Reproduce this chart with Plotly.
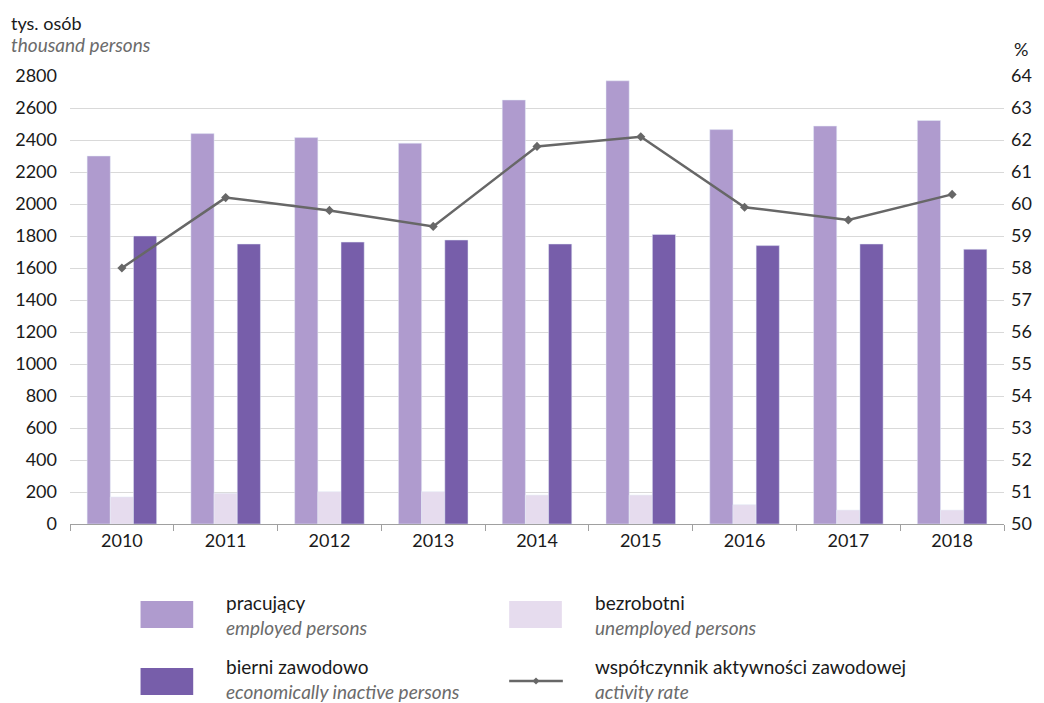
import plotly.graph_objects as go

LIGHT = "#AF9BCE"
PALE = "#E6DCEE"
DARK = "#775EAA"
LINE = "#676767"
GRID = "#D9D9D9"
TXT = "#1A1A1A"
GREY = "#6B6B6B"
FONT = "Lato, sans-serif"

years = ["2010", "2011", "2012", "2013", "2014", "2015", "2016", "2017", "2018"]
employed = [2300, 2440, 2415, 2380, 2650, 2770, 2465, 2487, 2522]
unemployed = [169, 192, 202, 202, 181, 181, 121, 87, 87]
inactive = [1800, 1750, 1762, 1775, 1750, 1810, 1740, 1750, 1717]
activity_rate = [58.0, 60.2, 59.8, 59.3, 61.8, 62.1, 59.9, 59.5, 60.3]

W, H = 1044, 703
L, R, T, B = 70, 1010, 76, 524


def px(x):
    return (x - L) / (R - L)


def py(y):
    return (B - y) / (B - T)


fig = go.Figure()
fig.add_trace(go.Bar(x=years, y=employed, name="pracujący", marker_color=LIGHT))
fig.add_trace(go.Bar(x=years, y=unemployed, name="bezrobotni", marker_color=PALE))
fig.add_trace(go.Bar(x=years, y=inactive, name="bierni zawodowo", marker_color=DARK))
fig.add_trace(go.Scatter(
    x=years, y=activity_rate, name="współczynnik aktywności zawodowej", yaxis="y2",
    mode="lines+markers", line=dict(color=LINE, width=2.5),
    marker=dict(symbol="diamond", size=7, color=LINE),
))

fig.update_layout(
    width=W, height=H,
    margin=dict(l=L, r=W - R, t=T, b=H - B),
    paper_bgcolor="white", plot_bgcolor="white",
    font=dict(family=FONT, size=18, color=TXT),
    showlegend=False,
    barmode="group", bargap=0.33, bargroupgap=0,
    xaxis=dict(
        type="category", showgrid=False, showline=True, linecolor="#A0A0A0", linewidth=1,
        ticks="outside", tickson="boundaries", ticklen=6, tickcolor="#A0A0A0",
        tickfont=dict(size=18, color=TXT),
    ),
    yaxis=dict(
        range=[0, 2800], dtick=200, showgrid=True, gridcolor=GRID, gridwidth=1.3,
        zeroline=False, showline=False, ticks="", ticklabelstandoff=12,
        tickfont=dict(size=18, color=TXT),
    ),
    yaxis2=dict(
        range=[50, 64], dtick=1, overlaying="y", side="right", showgrid=False,
        zeroline=False, showline=False, ticks="", ticklabelstandoff=6,
        tickfont=dict(size=18, color=TXT),
    ),
)

# axis titles
fig.add_annotation(text="tys. osób", x=px(9), y=py(23), xref="paper", yref="paper",
                   xanchor="left", yanchor="middle", showarrow=False,
                   font=dict(size=18, color=TXT))
fig.add_annotation(text="<i>thousand persons</i>", x=px(9), y=py(45), xref="paper", yref="paper",
                   xanchor="left", yanchor="middle", showarrow=False,
                   font=dict(size=19, color=GREY))
fig.add_annotation(text="%", x=px(1018), y=py(49), xref="paper", yref="paper",
                   xanchor="left", yanchor="middle", showarrow=False,
                   font=dict(size=18, color=TXT))

# legend drawn by hand: (swatch left, row top, text middle, colour, polish, english, is_line)
legend = [
    (141, 601, 615, LIGHT, "pracujący", "employed persons", False),
    (512, 601, 615, PALE, "bezrobotni", "unemployed persons", False),
    (141, 668, 679, DARK, "bierni zawodowo", "economically inactive persons", False),
    (512, 668, 679, LINE, "współczynnik aktywności zawodowej", "activity rate", True),
]
for x0, y0, ytxt, col, pl, en, is_line in legend:
    if is_line:
        ym = y0 + 13
        fig.add_shape(type="line", xref="paper", yref="paper",
                      x0=px(x0), x1=px(x0 + 54), y0=py(ym), y1=py(ym),
                      line=dict(color=col, width=2.5))
        cx = x0 + 27
        fig.add_shape(type="path", xref="paper", yref="paper",
                      path=(f"M {px(cx - 3.5)} {py(ym)} L {px(cx)} {py(ym - 3.5)} "
                            f"L {px(cx + 3.5)} {py(ym)} L {px(cx)} {py(ym + 3.5)} Z"),
                      fillcolor=col, line=dict(width=0))
    else:
        fig.add_shape(type="rect", xref="paper", yref="paper",
                      x0=px(x0), x1=px(x0 + 53), y0=py(y0), y1=py(y0 + 27),
                      fillcolor=col, line=dict(width=0))
    fig.add_annotation(
        text=f"{pl}<br><span style='color:{GREY}'><i>{en}</i></span>",
        x=px(x0 + 84), y=py(ytxt), xref="paper", yref="paper",
        xanchor="left", yanchor="middle", align="left", showarrow=False,
        font=dict(size=19, color=TXT),
    )

# page body has a default 8px margin; drop it so the figure sits at the corner
fig.write_html("out.html", config={"displayModeBar": False},
               post_script="document.body.style.margin='0';")
